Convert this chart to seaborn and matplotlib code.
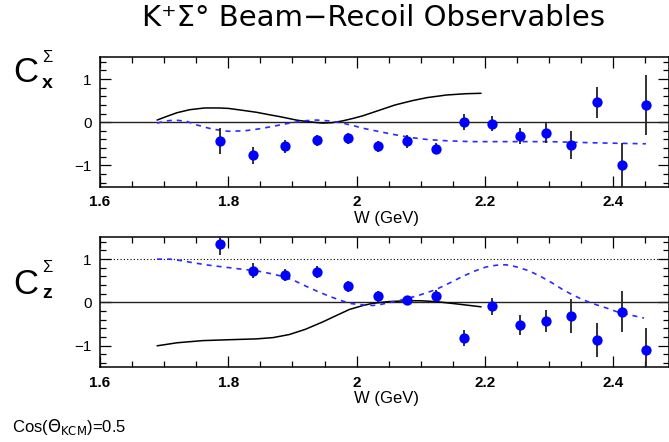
import numpy as np
import pandas as pd
import matplotlib
matplotlib.use("Agg")
import matplotlib.pyplot as plt
from matplotlib.ticker import MultipleLocator
import seaborn as sns

# measured data points (W in GeV)
w_data = [1.787, 1.838, 1.889, 1.938, 1.986, 2.033, 2.079, 2.124,
          2.168, 2.211, 2.254, 2.295, 2.335, 2.375, 2.414, 2.451]
cx_val = [-0.44, -0.77, -0.56, -0.42, -0.37, -0.56, -0.44, -0.61,
          0.00, -0.03, -0.32, -0.24, -0.53, 0.46, -1.00, 0.40]
cx_err = [0.30, 0.19, 0.15, 0.13, 0.13, 0.12, 0.15, 0.13,
          0.19, 0.17, 0.19, 0.24, 0.33, 0.36, 0.52, 0.70]
cz_val = [1.36, 0.73, 0.64, 0.70, 0.37, 0.14, 0.05, 0.16,
          -0.82, -0.09, -0.52, -0.43, -0.31, -0.86, -0.21, -1.10]
cz_err = [0.27, 0.17, 0.14, 0.14, 0.13, 0.12, 0.10, 0.12,
          0.18, 0.19, 0.23, 0.26, 0.39, 0.39, 0.47, 0.50]

# model curves (solid black and dashed blue)
cx_solid_w = [1.689, 1.705, 1.72, 1.74, 1.763, 1.785, 1.80, 1.82, 1.844, 1.865,
              1.88, 1.906, 1.925, 1.947, 1.962, 1.978, 1.995, 2.01, 2.036, 2.06,
              2.087, 2.11, 2.14, 2.17, 2.194]
cx_solid_y = [0.05, 0.14, 0.22, 0.29, 0.33, 0.33, 0.32, 0.28, 0.23, 0.17,
              0.13, 0.05, 0.01, -0.02, -0.01, 0.03, 0.09, 0.15, 0.28, 0.40,
              0.50, 0.57, 0.63, 0.66, 0.67]
cx_dash_w = [1.689, 1.703, 1.717, 1.735, 1.75, 1.775, 1.80, 1.825, 1.85, 1.875,
             1.896, 1.915, 1.937, 1.958, 1.978, 1.995, 2.01, 2.036, 2.06, 2.087,
             2.11, 2.14, 2.18, 2.222, 2.30, 2.378, 2.451]
cx_dash_y = [-0.02, 0.03, 0.05, 0.02, -0.06, -0.16, -0.21, -0.20, -0.15, -0.08,
             -0.02, 0.03, 0.05, 0.03, -0.02, -0.08, -0.14, -0.22, -0.29, -0.36,
             -0.40, -0.43, -0.45, -0.45, -0.45, -0.48, -0.50]

cz_solid_w = [1.689, 1.72, 1.76, 1.80, 1.844, 1.87, 1.895, 1.92, 1.947, 1.97,
              1.989, 2.01, 2.025, 2.05, 2.079, 2.10, 2.124, 2.16, 2.194]
cz_solid_y = [-1.00, -0.93, -0.88, -0.86, -0.84, -0.81, -0.74, -0.62, -0.45, -0.29,
              -0.16, -0.07, -0.02, 0.02, 0.04, 0.04, 0.02, -0.04, -0.10]
cz_dash_w = [1.689, 1.709, 1.725, 1.74, 1.765, 1.792, 1.82, 1.844, 1.865, 1.885,
             1.905, 1.922, 1.94, 1.958, 1.975, 1.989, 2.005, 2.025, 2.036, 2.055,
             2.079, 2.10, 2.124, 2.145, 2.165, 2.185, 2.202, 2.218, 2.233, 2.25,
             2.269, 2.287, 2.305, 2.32, 2.336, 2.352, 2.367, 2.39, 2.409, 2.43, 2.448]
cz_dash_y = [1.00, 1.00, 0.97, 0.93, 0.87, 0.82, 0.77, 0.73, 0.67, 0.60,
             0.49, 0.37, 0.25, 0.14, 0.05, -0.02, -0.05, -0.07, -0.05, 0.01,
             0.09, 0.18, 0.30, 0.45, 0.60, 0.73, 0.82, 0.86, 0.87, 0.82,
             0.73, 0.60, 0.45, 0.31, 0.18, 0.07, -0.02, -0.13, -0.23, -0.30, -0.36]

sns.set_theme(style="ticks")
plt.rcParams["font.family"] = ["Liberation Sans", "DejaVu Sans"]
plt.rcParams.update({
    "text.color": "black",
    "xtick.color": "black",
    "ytick.color": "black",
    "xtick.labelcolor": "black",
    "ytick.labelcolor": "black",
})

fig = plt.figure(figsize=(6.69, 4.42), dpi=100)
ax_top = fig.add_axes([0.1495, 0.577, 0.8505, 0.293])
ax_bot = fig.add_axes([0.1495, 0.1686, 0.8505, 0.2941])

panels = [
    (ax_top, cx_val, cx_err, cx_solid_w, cx_solid_y, cx_dash_w, cx_dash_y, False),
    (ax_bot, cz_val, cz_err, cz_solid_w, cz_solid_y, cz_dash_w, cz_dash_y, True),
]

for ax, vals, errs, sw, sy, dw, dy, dotted in panels:
    ax.axhline(0, color="#222222", lw=1.0, zorder=1)
    if dotted:
        ax.axhline(1, color="black", lw=0.8, ls=(0, (1, 2)), zorder=1)
    sns.lineplot(x=sw, y=sy, ax=ax, color="black", lw=1.1, sort=False, zorder=2)
    sns.lineplot(x=dw, y=dy, ax=ax, color="#2b2bff", lw=1.2, sort=False,
                 linestyle=(0, (3, 3)), zorder=2)
    ax.errorbar(w_data, vals, yerr=errs, fmt="none", ecolor="#222222",
                elinewidth=1.3, capsize=0, zorder=3)
    sns.scatterplot(x=w_data, y=vals, ax=ax, color="#0000ff", s=55,
                    edgecolor="#0000ff", linewidth=0, zorder=4)

    ax.set_xlim(1.6, 2.487)
    ax.set_ylim(-1.5, 1.5)
    ax.xaxis.set_minor_locator(MultipleLocator(0.05))
    ax.yaxis.set_minor_locator(MultipleLocator(0.2))
    ax.set_xticks([1.6, 1.8, 2.0, 2.2, 2.4])
    ax.set_xticklabels(["1.6", "1.8", "2", "2.2", "2.4"], fontsize=11, fontweight="bold")
    ax.set_yticks([-1, 0, 1])
    ax.set_yticklabels(["\u22121", "0", "1"], fontsize=11)
    ax.tick_params(which="both", direction="in", top=True, right=True,
                   color="black", width=0.9)
    ax.tick_params(which="major", length=8, pad=6)
    ax.tick_params(which="minor", length=4)
    for sp in ax.spines.values():
        sp.set_visible(True)
        sp.set_color("black")
        sp.set_linewidth(1.1)
    ax.set_xlabel("")
    ax.set_ylabel("")
    ax.set_facecolor("white")

# axis labels "W (GeV)" under the tick 2
fig.text(386 / 669, 1 - 219 / 442, "W (GeV)", ha="center", va="center", fontsize=12)
fig.text(386 / 669, 1 - 399 / 442, "W (GeV)", ha="center", va="center", fontsize=12)

# panel labels C_x^Sigma and C_z^Sigma
fig.text(26 / 669, 1 - 72 / 442, "C", ha="center", va="center", fontsize=25)
fig.text(47 / 669, 1 - 58 / 442, "\u03a3", ha="center", va="center", fontsize=12)
fig.text(47 / 669, 1 - 84 / 442, "x", ha="center", va="center", fontsize=14, fontweight="bold")
fig.text(26 / 669, 1 - 285 / 442, "C", ha="center", va="center", fontsize=25)
fig.text(47 / 669, 1 - 268 / 442, "\u03a3", ha="center", va="center", fontsize=12)
fig.text(47 / 669, 1 - 294 / 442, "z", ha="center", va="center", fontsize=14, fontweight="bold")

fig.text(373 / 669, 1 - 18 / 442, "K\u207a\u03a3\u00b0 Beam\u2212Recoil Observables",
         ha="center", va="center", fontsize=21, family=["DejaVu Sans"])
fig.text(12 / 669, 1 - 427 / 442, r"Cos($\Theta_{\rm KCM}$)=0.5", ha="left",
         va="center", fontsize=12)

fig.savefig("out.png", dpi=100, facecolor="white")
